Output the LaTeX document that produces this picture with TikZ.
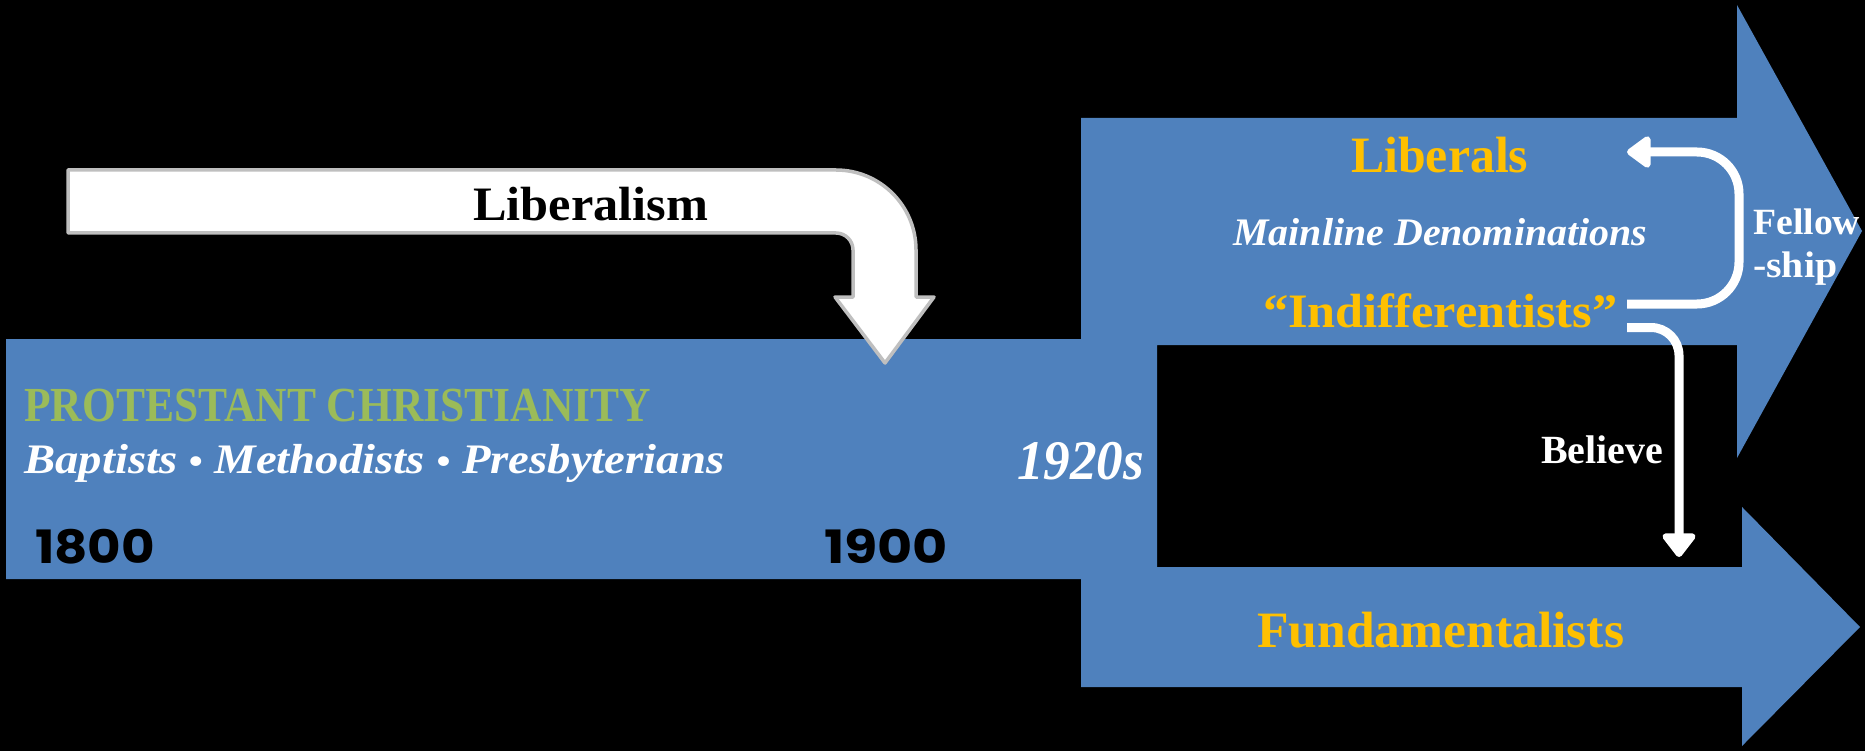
\documentclass[tikz,border=0pt]{standalone}
\usepackage{fontspec}
\usepackage{graphicx}
\setmainfont{Liberation Serif}
\newfontfamily\yearfont{Poppins}
\usetikzlibrary{arrows.meta}
\definecolor{bandblue}{HTML}{4F81BD}
\definecolor{goldc}{HTML}{FFC000}
\definecolor{greenc}{HTML}{9BBB59}
\definecolor{outl}{HTML}{BFBFBF}
\newcommand\fitto[2]{\resizebox{#1}{\height}{#2}}
\newcommand\fsz[1]{\fontsize{#1}{#1}\selectfont}
\newcommand\smbul{{\fsz{36}\upshape•}}
\begin{document}
\begin{tikzpicture}[x=1pt,y=-1pt,
  txt/.style={inner sep=0pt, anchor=base west},
  band/.style={fill=bandblue, draw=none},
  bendarrow/.style={fill=white, draw=outl, line width=3.5pt, line join=round},
  connector/.style={draw=white, line width=9pt, -{Triangle[length=26pt,width=36pt,round]}},
]
\useasboundingbox (0,0) rectangle (1865,751);
\fill[black] (0,0) rectangle (1865,751);
% blue band splitting into two arrows
\path[band] (6,339) -- (1081,339) -- (1081,118) -- (1737,118) -- (1737,5) -- (1862,231)
  -- (1737,458) -- (1737,345) -- (1157,345) -- (1157,567) -- (1742,567) -- (1742,507)
  -- (1860,627) -- (1742,746) -- (1742,687) -- (1081,687) -- (1081,579) -- (6,579) -- cycle;
% bent Liberalism arrow
\path[bendarrow] (68,170) [rounded corners=80pt] -- (916,170) [sharp corners] -- (916,297)
  -- (934,297) -- (885,363) -- (835,297) -- (853,297) [rounded corners=17pt] -- (853,233)
  [sharp corners] -- (68,233) -- cycle;
% texts
\node[txt, font=\fsz{48}\bfseries, text=black] (liberalism) at (473,221) {\fitto{235pt}{Liberalism}};
\node[txt, font=\fsz{49}\bfseries, text=greenc] (protestant) at (24,421) {\fitto{627pt}{PROTESTANT CHRISTIANITY}};
\node[txt, font=\fsz{42}\bfseries\itshape, text=white] (denoms) at (24,473) {\fitto{700pt}{Baptists \smbul\ Methodists \smbul\ Presbyterians}};
\node[txt, font=\fsz{46}\yearfont\bfseries, text=black] (y1800) at (35,563) {\fitto{120pt}{1800}};
\node[txt, font=\fsz{46}\yearfont\bfseries, text=black] (y1900) at (824,563) {\fitto{124pt}{1900}};
\node[txt, font=\fsz{56}\bfseries\itshape, text=white] (y1920) at (1017,479) {\fitto{127pt}{1920s}};
\node[txt, font=\fsz{51}\bfseries, text=goldc] (liberals) at (1351,173) {\fitto{177pt}{Liberals}};
\node[txt, font=\fsz{39}\bfseries\itshape, text=white] (mainline) at (1233,246) {\fitto{414pt}{Mainline Denominations}};
\node[txt, font=\fsz{48}\bfseries, text=goldc] (indiff) at (1263,327) {\fitto{354pt}{“Indifferentists”}};
\node[txt, font=\fsz{51}\bfseries, text=goldc] (fund) at (1257,647) {\fitto{367pt}{Fundamentalists}};
\node[txt, font=\fsz{40}\bfseries, text=white] (believe) at (1541,463) {\fitto{122pt}{Believe}};
\node[txt, font=\fsz{37}\bfseries, text=white] (fellow) at (1753,235) {\fitto{107pt}{Fellow}};
\node[txt, font=\fsz{37}\bfseries, text=white] (ship) at (1753,278) {\fitto{84pt}{-ship}};
% white connectors
\coordinate (fsA) at (1627,304);
\coordinate (fsB) at (1627,152);
\draw[connector] (fsA) [rounded corners=42pt] -- (1739,304) -- (1739,152) [sharp corners] -- (fsB);
\coordinate (blA) at (1627,327.5);
\coordinate (blB) at (1679,557);
\draw[connector, -{Triangle[length=26pt,width=38pt,round]}] (blA) [rounded corners=28pt] -- (1679,327.5) [sharp corners] -- (blB);
\end{tikzpicture}
\end{document}
